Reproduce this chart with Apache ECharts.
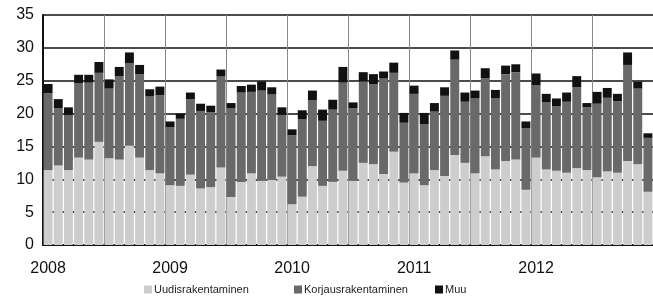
<!DOCTYPE html>
<html>
<head>
<meta charset="utf-8">
<script src="https://cdn.jsdelivr.net/npm/echarts@6/dist/echarts.min.js"></script>
<style>
  html, body { margin: 0; padding: 0; background: #fff; }
  #chart { width: 653px; height: 300px; }
</style>
</head>
<body>
<div id="chart"></div>
<script>
const years = ['2008', '2009', '2010', '2011', '2012'];
const months = ['1', '2', '3', '4', '5', '6', '7', '8', '9', '10', '11', '12'];
const seriesNames = ['Uudisrakentaminen', 'Korjausrakentaminen', 'Muu'];

// monthly values, Jan 2008 .. Dec 2012
const uudis = [
  11.4, 12.1, 11.4, 13.3, 13.0, 15.7, 13.2, 13.0, 15.1, 13.3, 11.4, 10.9,
  9.1, 9.0, 10.7, 8.6, 8.8, 11.8, 7.3, 9.6, 10.9, 9.8, 9.9, 10.4,
  6.2, 7.35, 12.0, 9.0, 9.6, 11.3, 9.8, 12.5, 12.3, 10.8, 14.2, 9.5,
  10.9, 9.1, 11.4, 10.5, 13.7, 12.5, 10.9, 13.5, 11.5, 12.8, 13.0, 8.4,
  13.3, 11.5, 11.3, 11.0, 11.7, 11.4, 10.3, 11.2, 11.0, 12.8, 12.3, 8.1,
];
const korjaus = [
  11.7, 8.7, 8.4, 11.3, 11.7, 10.5, 10.6, 12.7, 12.6, 12.7, 11.2, 11.9,
  8.8, 10.2, 11.5, 11.8, 11.4, 13.9, 13.5, 13.6, 12.4, 13.7, 13.0, 9.4,
  10.5, 11.75, 10.0, 9.9, 11.0, 13.4, 11.0, 12.4, 12.2, 14.6, 12.0, 9.1,
  12.1, 9.3, 8.9, 12.2, 14.5, 9.3, 11.4, 11.9, 10.8, 13.2, 13.3, 9.4,
  11.05, 10.2, 9.85, 10.8, 12.3, 9.55, 11.2, 11.2, 10.9, 14.6, 11.5, 8.2,
];
const muu = [
  1.4, 1.4, 1.15, 1.3, 1.2, 1.65, 1.4, 1.4, 1.6, 1.4, 1.1, 1.3,
  0.9, 0.8, 1.0, 1.1, 1.0, 1.0, 0.8, 1.0, 1.1, 1.4, 1.1, 1.15,
  0.9, 1.4, 1.5, 1.7, 1.5, 2.4, 0.9, 1.4, 1.5, 1.0, 1.55, 1.5,
  1.25, 1.7, 1.3, 1.3, 1.4, 1.4, 1.2, 1.5, 1.3, 1.3, 1.2, 1.0,
  1.75, 1.3, 1.15, 1.4, 1.7, 0.65, 1.8, 1.5, 1.1, 1.9, 1.05, 0.7,
];

const categories = [];
years.forEach(y => months.forEach(m => categories.push(y + '-' + m)));

const colors = ['#cdcdcd', '#696969', '#111111'];
const font = 'Liberation Sans, Arial, sans-serif';
// legend entries are spaced unevenly in the source, so one legend per entry
const legendLeft = [144, 294, 435];

const myChart = echarts.init(document.getElementById('chart'));
const options = {
  animation: false,
  color: colors,
  textStyle: { fontFamily: font },
  grid: { left: 43, top: 15, bottom: 55, width: 618 },
  legend: seriesNames.map((name, i) => ({
    data: [name],
    left: legendLeft[i],
    top: 284,
    padding: 0,
    icon: 'rect',
    itemWidth: 8,
    itemHeight: 8,
    textStyle: { fontSize: 11, color: '#222', fontFamily: font, padding: [0, 0, 0, -3] },
  })),
  xAxis: {
    type: 'category',
    data: categories,
    axisLine: { lineStyle: { color: '#111', width: 2 } },
    axisTick: { show: false },
    axisLabel: {
      interval: 11,
      margin: 16,
      fontSize: 16,
      color: '#111',
      fontFamily: font,
      formatter: v => v.split('-')[0],
    },
    splitLine: { show: true, interval: 5, lineStyle: { color: '#888', width: 1 } },
  },
  yAxis: {
    type: 'value',
    min: 0,
    max: 35,
    interval: 5,
    axisLine: { show: true, lineStyle: { color: '#111', width: 2 } },
    axisTick: { show: false },
    axisLabel: { fontSize: 16, color: '#111', margin: 9, fontFamily: font },
    splitLine: { lineStyle: { color: '#111', width: 1.5 } },
  },
  series: [uudis, korjaus, muu].map((d, i) => ({
    name: seriesNames[i],
    type: 'bar',
    stack: 'total',
    barCategoryGap: '12%',
    data: d,
  })),
};
myChart.setOption(options);
</script>
</body>
</html>
